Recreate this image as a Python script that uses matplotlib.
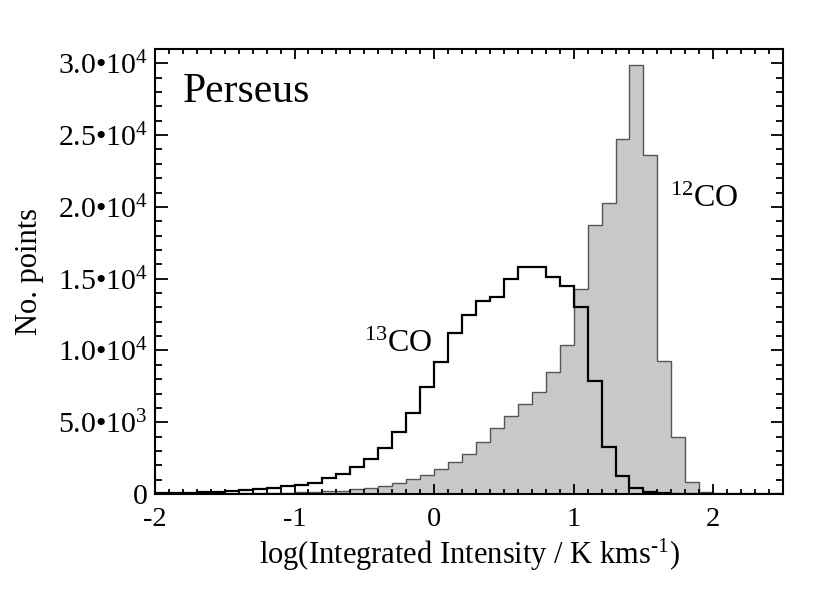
import matplotlib

matplotlib.use("Agg")
import matplotlib.pyplot as plt
import numpy as np

plt.rcParams["font.family"] = ["Liberation Serif", "DejaVu Serif"]
plt.rcParams["mathtext.fontset"] = "custom"
plt.rcParams["mathtext.rm"] = "Liberation Serif"
plt.rcParams["mathtext.it"] = "Liberation Serif:italic"

# histogram bins: log(W) from -2.0 to 2.5 in 0.1 dex steps
bin_start = -2.0
bin_width = 0.1

# 13CO counts per bin (bins -2.0 ... 2.4)
co13_counts = [
    50, 70, 90, 115, 160, 230, 280, 325, 420, 540,
    610, 790, 1100, 1400, 1860, 2440, 3200, 4300, 5620, 7480,
    9200, 11200, 12500, 13450, 13750, 14950, 15800, 15800, 15150, 14520,
    13000, 7900, 3250, 1280, 430, 140, 50, 20, 10, 0,
    0, 0, 0, 0, 0,
]

# 12CO counts per bin (bins -2.0 ... 2.4)
co12_counts = [
    15, 18, 20, 25, 30, 35, 45, 55, 70, 85,
    115, 150, 185, 245, 320, 430, 560, 770, 1020, 1340,
    1720, 2230, 2790, 3650, 4580, 5440, 6260, 7140, 8470, 10400,
    14280, 18750, 20280, 24750, 29890, 23630, 9235, 3955, 814, 150,
    0, 0, 0, 0, 0,
]

y_ticks = [0, 5000, 10000, 15000, 20000, 25000, 30000]
y_ticklabels = ["0", "5.0•10$^{3}$", "1.0•10$^{4}$", "1.5•10$^{4}$",
                "2.0•10$^{4}$", "2.5•10$^{4}$", "3.0•10$^{4}$"]
x_ticks = [-2, -1, 0, 1, 2]

edges = bin_start + bin_width * np.arange(len(co13_counts) + 1)

fig = plt.figure(figsize=(8.3, 5.93), dpi=100)
ax = fig.add_axes([0.1867, 0.1669, 0.7567, 0.7505])

ax.stairs(co12_counts, edges, fill=True, facecolor="#c8c8c8", edgecolor="none")
ax.stairs(co12_counts, edges, color="#555555", lw=1.0)
ax.stairs(co13_counts, edges, color="black", lw=1.6)

ax.set_xlim(-2.0, 2.5)
ax.set_ylim(0, 31000)

ax.set_xticks(x_ticks)
ax.set_xticklabels([str(t) for t in x_ticks])
ax.set_xticks(np.arange(-2.0, 2.51, 0.1), minor=True)
ax.set_yticks(y_ticks)
ax.set_yticklabels(y_ticklabels)
ax.set_yticks(np.arange(0, 31001, 1000), minor=True)

ax.tick_params(which="both", direction="in", top=True, right=True, width=1.3,
               labelsize=20.5, colors="black")
ax.tick_params(axis="x", which="major", length=7, pad=9)
ax.tick_params(axis="x", which="minor", length=3.5)
ax.tick_params(axis="y", which="major", length=9, pad=5)
ax.tick_params(axis="y", which="minor", length=5)
ax.tick_params(axis="y", which="major", labelsize=21.5)
for s in ax.spines.values():
    s.set_linewidth(1.5)

ax.set_xlabel("log(Integrated Intensity / K kms$^{\\text{-1}}$)", fontsize=22, labelpad=4)
ax.set_ylabel("No. points", fontsize=22, labelpad=10)

ax.text(-1.8, 27300, "Perseus", fontsize=30, va="baseline", ha="left")
ax.text(-0.5, 9900, "$^{13}$CO", fontsize=23, va="baseline", ha="left")
ax.text(1.69, 20000, "$^{12}$CO", fontsize=23, va="baseline", ha="left")

fig.savefig("out.png", dpi=100)
